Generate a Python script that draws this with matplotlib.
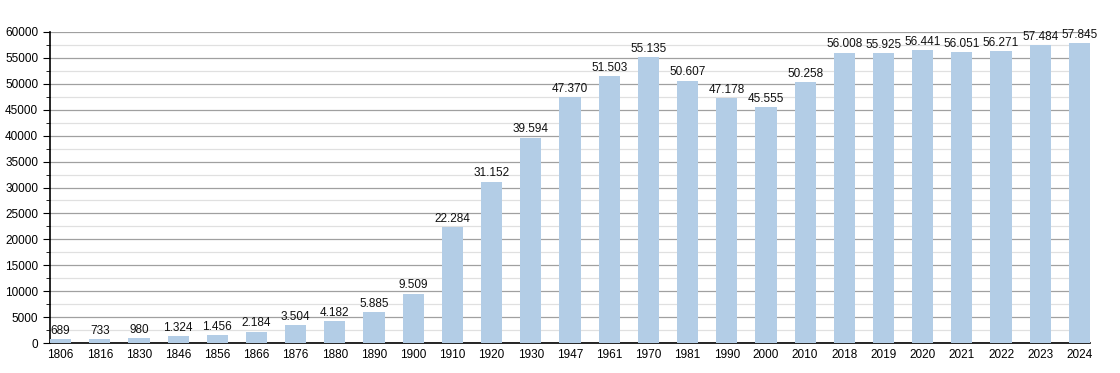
import matplotlib.pyplot as plt
from matplotlib.ticker import MultipleLocator

plt.rcParams['font.family'] = ['Liberation Sans', 'DejaVu Sans']

years = ['1806', '1816', '1830', '1846', '1856', '1866', '1876', '1880', '1890',
         '1900', '1910', '1920', '1930', '1947', '1961', '1970', '1981', '1990',
         '2000', '2010', '2018', '2019', '2020', '2021', '2022', '2023', '2024']
population = [689, 733, 980, 1324, 1456, 2184, 3504, 4182, 5885,
              9509, 22284, 31152, 39594, 47370, 51503, 55135, 50607, 47178,
              45555, 50258, 56008, 55925, 56441, 56051, 56271, 57484, 57845]

bar_w = 0.54
fig = plt.figure(figsize=(11.2, 3.73), dpi=100)
ax = fig.add_axes([50 / 1120, 30 / 373, 1040 / 1120, 311 / 373])

x = list(range(len(years)))
centers = [i + bar_w / 2 for i in x]
ax.bar(x, population, width=bar_w, align='edge', color='#b3cde6', zorder=3)

for c, v in zip(centers, population):
    ax.text(c, v + 450, f'{v:,}'.replace(',', '.'), ha='center', va='bottom',
            fontsize=8.5, color='#111111', zorder=4)

ax.set_xlim(0, len(years) - 1 + bar_w)
ax.set_ylim(0, 60000)
ax.set_xticks(centers)
ax.set_xticklabels(years)
ax.yaxis.set_major_locator(MultipleLocator(5000))
ax.yaxis.set_minor_locator(MultipleLocator(2500))
ax.grid(axis='y', which='major', color='#a0a0a0', linewidth=0.9, zorder=0)
ax.grid(axis='y', which='minor', color='#e0e0e0', linewidth=0.9, zorder=0)

for s in ['top', 'right']:
    ax.spines[s].set_visible(False)
ax.spines['left'].set_linewidth(1.2)
ax.spines['bottom'].set_linewidth(1.2)
ax.tick_params(axis='x', length=0, labelsize=8.5, pad=4)
ax.tick_params(axis='y', which='major', length=5, labelsize=8.5)
ax.tick_params(axis='y', which='minor', length=3)

fig.savefig('out.png', dpi=100)
